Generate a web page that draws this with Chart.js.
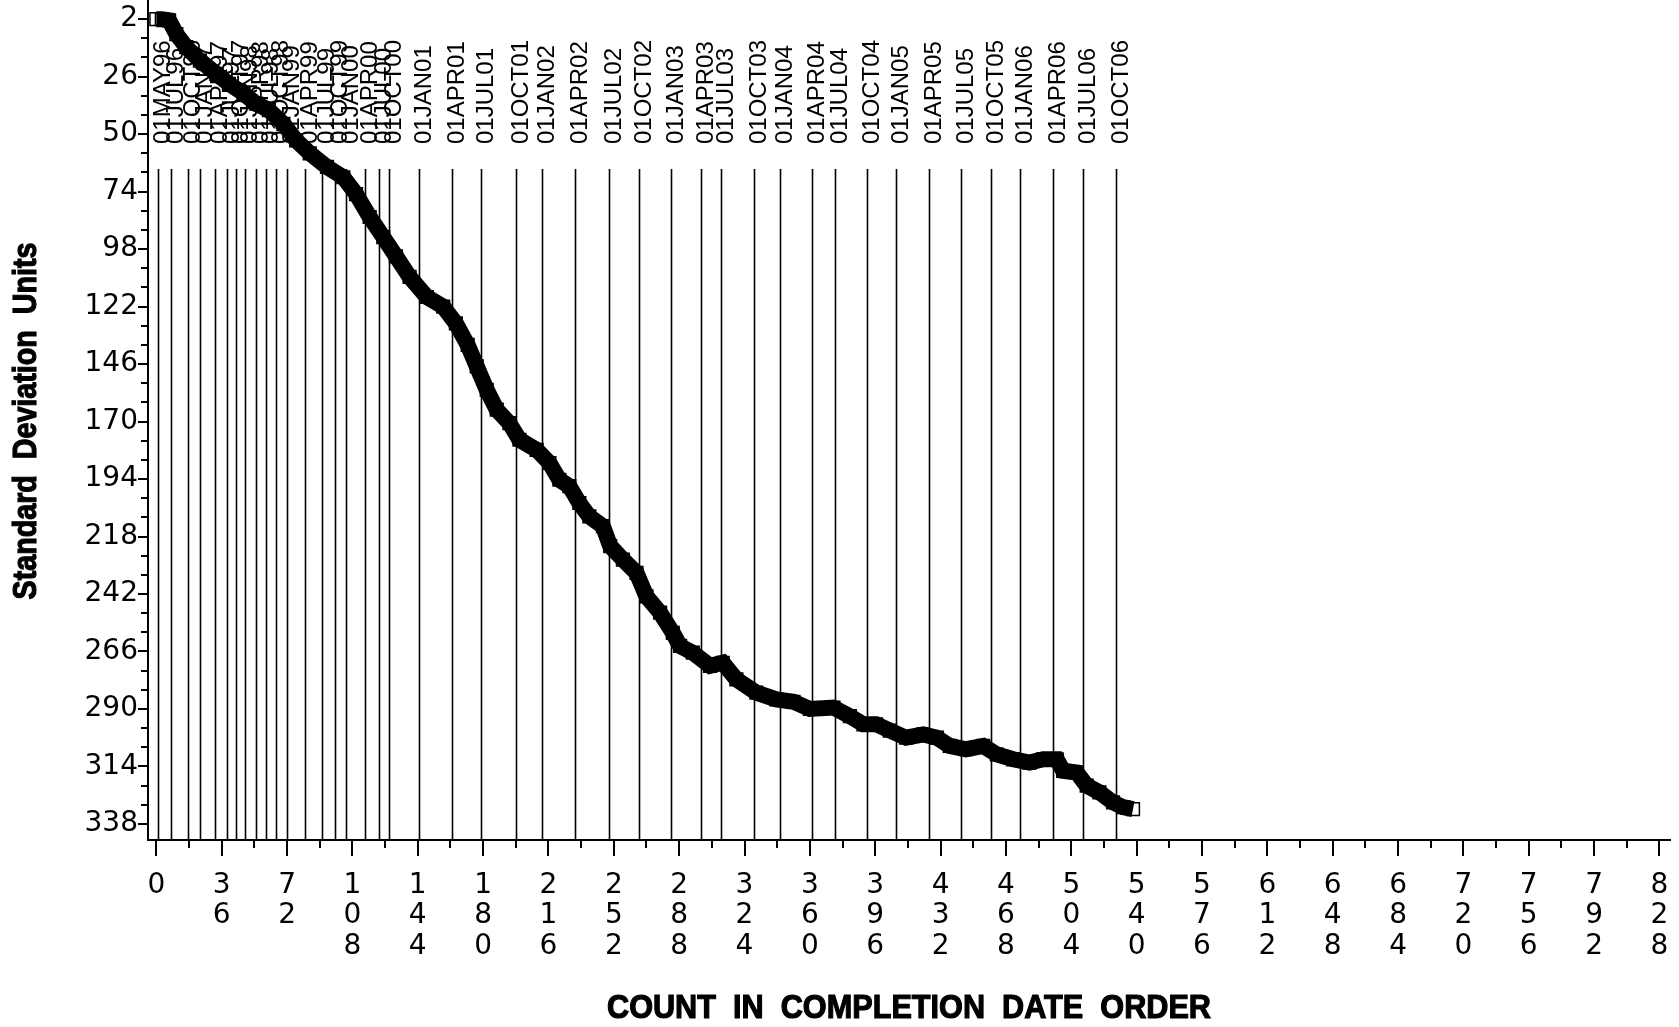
<!DOCTYPE html>
<html>
<head>
<meta charset="utf-8">
<script src="https://cdn.jsdelivr.net/npm/chart.js@4.4.1/dist/chart.umd.min.js"></script>
<style>
  html, body { margin: 0; padding: 0; background: #fff; }
  canvas { display: block; }
</style>
</head>
<body>
<canvas id="cusumChart" width="1679" height="1027"></canvas>
<script>
// count in completion date order
const countValues = [0, 3, 7, 11, 16.5, 24, 33, 40, 48, 55, 62, 70, 77, 84.5, 94, 103, 110, 117.5, 125, 132,
    139.5, 149, 158, 165, 171.5, 176.5, 182, 187.5, 194.5, 200, 209.5, 216.5, 222, 227.5, 233, 238.5, 246, 250,
    257, 264.5, 270, 277.5, 284.5, 288.5, 295.5, 305, 312, 319.5, 330.5, 341.5, 351, 360, 373, 382, 389.5, 396.5,
    404, 413, 422.5, 430, 437, 446, 455.5, 463, 472, 481, 488.5, 496, 499.5, 507, 512.5, 519.5, 527, 532.5, 538];
// standard deviation units
const sdValues = [2, 2, 2.5, 8.2, 13.7, 19.3, 24.8, 29, 33, 37.3, 40, 45.7, 52.6, 58, 63.7, 68, 75, 84.6, 93, 101,
    109.6, 118, 122, 129, 138, 147, 156.8, 165, 170.7, 177.6, 181.8, 187.3, 194.3, 197, 204, 209.6, 213.7, 222,
    227.6, 233.2, 243, 249.8, 258.2, 263.7, 266.5, 272, 270.7, 277.6, 283.2, 286, 287, 290, 289.4, 293, 296.4, 296.4,
    299, 302, 300.6, 302, 305.4, 306.8, 305.4, 309, 311, 312.4, 311, 311, 315.8, 316.5, 322, 324.8, 329, 331, 331.8];

const xTickValues = [0, 36, 72, 108, 144, 180, 216, 252, 288, 324, 360, 396, 432, 468, 504, 540, 576, 612, 648, 684, 720, 756, 792, 828];
const yTickValues = [2, 26, 50, 74, 98, 122, 146, 170, 194, 218, 242, 266, 290, 314, 338];

// reference lines: quarter start dates and where they fall in the count
const refDates = ["01MAY96", "01JUL96", "01OCT96", "01JAN97", "01APR97", "01JUL97", "01OCT97", "01JAN98", "01APR98",
    "01JUL98", "01OCT98", "01JAN99", "01APR99", "01JUL99", "01OCT99", "01JAN00", "01APR00", "01JUL00", "01OCT00",
    "01JAN01", "01APR01", "01JUL01", "01OCT01", "01JAN02", "01APR02", "01JUL02", "01OCT02", "01JAN03", "01APR03",
    "01JUL03", "01OCT03", "01JAN04", "01APR04", "01JUL04", "01OCT04", "01JAN05", "01APR05", "01JUL05", "01OCT05",
    "01JAN06", "01APR06", "01JUL06", "01OCT06"];
const refCounts = [0.9, 8.3, 17.4, 23.9, 32.1, 38.9, 44.1, 49, 54.7, 60.2, 66.1, 72, 81.7, 91.2, 98.2, 104.7, 114.8,
    122.6, 128.2, 144.7, 162.9, 178.7, 198, 212.5, 230.5, 249.4, 265.9, 283.7, 299.9, 310.9, 329.1, 343.8, 360.9,
    374.1, 391.5, 407.7, 425.7, 443.5, 459.7, 475.6, 493.7, 510.7, 528.7];

const FONT = '"Liberation Sans", Arial, sans-serif';
const TICK_FONT = '"DejaVu Sans", sans-serif';

// vertical date lines with their rotated labels
const refLinesPlugin = {
    id: 'refLines',
    beforeDatasetsDraw(chart) {
        const { ctx, chartArea } = chart;
        const xs = chart.scales.x;
        ctx.save();
        ctx.strokeStyle = '#000';
        ctx.lineWidth = 1.6;
        ctx.fillStyle = '#000';
        ctx.font = '24px ' + FONT;
        refCounts.forEach((c, i) => {
            const px = Math.round(xs.getPixelForValue(c)) + 0.5;
            ctx.beginPath();
            ctx.moveTo(px, 169);
            ctx.lineTo(px, chartArea.bottom);
            ctx.stroke();

            ctx.save();
            ctx.translate(px + 5, 144);
            ctx.rotate(-Math.PI / 2);
            ctx.textAlign = 'left';
            ctx.textBaseline = 'middle';
            ctx.fillText(refDates[i], 0, 0);
            ctx.restore();
        });
        ctx.restore();
    }
};

// tick marks (major + minor) and the two axis titles
const axisDecorPlugin = {
    id: 'axisDecor',
    afterDraw(chart) {
        const { ctx, chartArea } = chart;
        const xs = chart.scales.x;
        const ys = chart.scales.y;
        ctx.save();
        ctx.strokeStyle = '#000';
        ctx.lineWidth = 2;

        for (let v = 0; v <= 828; v += 18) {
            const px = Math.round(xs.getPixelForValue(v));
            const len = v % 36 === 0 ? 16 : 8;
            ctx.beginPath();
            ctx.moveTo(px, chartArea.bottom);
            ctx.lineTo(px, chartArea.bottom + len);
            ctx.stroke();
        }
        for (let v = 2; v <= 338; v += 8) {
            const py = Math.round(ys.getPixelForValue(v));
            const len = (v - 2) % 24 === 0 ? 10 : 7;
            ctx.beginPath();
            ctx.moveTo(chartArea.left, py);
            ctx.lineTo(chartArea.left - len, py);
            ctx.stroke();
        }

        ctx.fillStyle = '#000';
        ctx.lineWidth = 1.2;
        ctx.font = 'bold 34px ' + FONT;
        ctx.textAlign = 'center';
        ctx.textBaseline = 'middle';

        const xTitle = 'COUNT  IN  COMPLETION  DATE  ORDER';
        ctx.fillText(xTitle, 909, 1009, 604);
        ctx.strokeText(xTitle, 909, 1009, 604);

        ctx.translate(27, 421);
        ctx.rotate(-Math.PI / 2);
        const yTitle = 'Standard  Deviation  Units';
        ctx.fillText(yTitle, 0, 0, 357);
        ctx.strokeText(yTitle, 0, 0, 357);
        ctx.restore();
    }
};

// fixed axis sizes, no extra padding for edge labels
function fixBox(size, key) {
    return s => {
        s[key] = size;
        s.paddingTop = 0;
        s.paddingBottom = 0;
        s.paddingLeft = 0;
        s.paddingRight = 0;
    };
}

const ctx = document.getElementById('cusumChart').getContext('2d');
new Chart(ctx, {
    type: 'scatter',
    data: {
        datasets: [{
            data: countValues.map((c, i) => ({ x: c, y: sdValues[i] })),
            showLine: true,
            borderColor: '#000',
            borderWidth: 16,
            borderJoinStyle: 'miter',
            tension: 0,
            pointStyle: 'rect',
            pointRadius: 9,
            pointBorderWidth: 1.5,
            pointBorderColor: '#000',
            pointBackgroundColor: 'rgba(0,0,0,0)'
        }]
    },
    options: {
        responsive: false,
        animation: false,
        layout: { autoPadding: false, padding: { left: 0, right: 9, top: 0, bottom: 0 } },
        plugins: {
            legend: { display: false },
            tooltip: { enabled: false }
        },
        scales: {
            x: {
                type: 'linear',
                min: -4.6,
                max: 833.8,
                afterBuildTicks: s => { s.ticks = xTickValues.map(v => ({ value: v })); },
                afterFit: fixBox(187, 'height'),
                grid: { display: false, drawTicks: false, tickLength: 0 },
                border: { display: true, color: '#000', width: 2 },
                ticks: {
                    autoSkip: false,
                    maxRotation: 0,
                    minRotation: 0,
                    padding: 30,
                    color: '#000',
                    font: { family: TICK_FONT, size: 28, lineHeight: 1.1 },
                    callback: v => String(v).split('')
                }
            },
            y: {
                type: 'linear',
                reverse: true,
                min: -6,
                max: 344.7,
                afterBuildTicks: s => { s.ticks = yTickValues.map(v => ({ value: v })); },
                afterFit: fixBox(148, 'width'),
                grid: { display: false, drawTicks: false, tickLength: 0 },
                border: { display: true, color: '#000', width: 2 },
                ticks: {
                    autoSkip: false,
                    padding: 10,
                    color: '#000',
                    font: { family: TICK_FONT, size: 28 }
                }
            }
        }
    },
    plugins: [refLinesPlugin, axisDecorPlugin]
});
</script>
</body>
</html>
